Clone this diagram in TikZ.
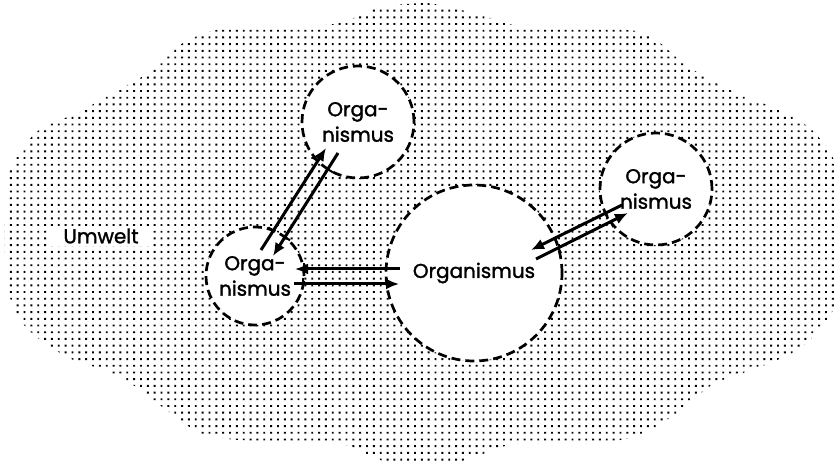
\documentclass[tikz,border=0pt]{standalone}
\usepackage{fontspec}
\setmainfont{Poppins}[FakeBold=1.5]
\usetikzlibrary{arrows.meta,calc}
\begin{document}
\begin{tikzpicture}[x=1pt,y=-1pt,
  org/.style={circle,draw=black,fill=white,line width=2.7pt,dash pattern=on 9pt off 5pt,inner sep=0pt,align=center,font=\fontsize{20}{25.5}\selectfont},
  arr/.style={line width=3pt,-{Latex[length=13pt,width=11pt]}},
  tickmark/.style={line width=2pt},
  lab/.style={fill=white,font=\fontsize{20}{24}\selectfont,inner xsep=13pt,inner ysep=3pt}]
\useasboundingbox (0,0) rectangle (836,465);
% Umwelt cloud (dot raster clipped to outline)
\begin{scope}
\clip plot[smooth cycle,tension=0.5] coordinates {
  (395,5) (425,3) (445,6) (465,11) (490,18) (508,24) (540,28) (600,29) (636,31)
  (655,39) (668,50) (680,60) (695,71) (710,80) (730,90) (750,99) (770,106)
  (795,118) (812,130) (824,144) (833,158) (837,180) (838,240) (837,295) (830,316)
  (818,330) (808,342) (790,354) (765,365) (740,374) (715,383) (700,394) (685,407)
  (668,419) (650,430) (620,440) (540,442) (505,446) (480,455) (450,464) (420,466)
  (395,464) (375,458) (350,446) (320,442) (240,440) (205,435) (185,424) (165,409)
  (148,396) (130,383) (105,370) (78,362) (55,350) (38,338) (24,325) (14,308)
  (6,280) (5,220) (7,180) (14,162) (24,148) (35,133) (55,122) (80,112) (100,100)
  (120,89) (140,78) (155,68) (165,57) (178,46) (200,35) (225,29) (300,27)
  (340,23) (360,15) (378,8)};
\foreach \j in {0,...,69} {
  \pgfmathsetmacro{\yy}{\j*6.7+3}
  \fill[black] \foreach \i in {0,...,121} { (\i*6.85+3,\yy) rectangle ++(1.9,1.9) };
}
\end{scope}
\node[lab] (U) at (101,236) {Umwelt};
% organisms
\node[org,minimum size=176pt] (M) at (474,273) {Organismus};
\node[org,minimum size=112pt] (T) at (358,122) {Orga-\\nismus};
\node[org,minimum size=98pt]  (L) at (255,276) {Orga-\\nismus};
\node[org,minimum size=112pt] (R) at (656,189) {Orga-\\nismus};
% arrow end points
\coordinate (h1s) at ($(M)+(-74,-4)$);
\coordinate (h1e) at ($(L)+(40,-7)$);
\coordinate (h2s) at ($(L)+(39,8)$);
\coordinate (h2e) at ($(M)+(-75,11)$);
\coordinate (d1s) at ($(L)+(6,-26)$);
\coordinate (d1e) at ($(T)+(-32,26)$);
\coordinate (d2s) at ($(T)+(-20,31)$);
\coordinate (d2e) at ($(L)+(18,-20)$);
\coordinate (rAs) at ($(R)+(-34,16)$);
\coordinate (rAe) at ($(M)+(57,-23)$);
\coordinate (rBs) at ($(M)+(62,-14)$);
\coordinate (rBe) at ($(R)+(-28,24)$);
% arrows
\draw[arr] (h1s) -- (h1e);
\draw[arr] (h2s) -- (h2e);
\draw[arr] (d1s) -- (d1e);
\draw[arr] (d2s) -- (d2e);
\draw[arr] (rAs) -- (rAe);
\draw[arr] (rBs) -- (rBe);
% crossing marks
\draw[tickmark] (303.5,269) -- ++(0,-6);
\draw[tickmark] (386.1,269) -- ++(0,-6);
\draw[tickmark] (303.3,284) -- ++(0,-6);
\draw[tickmark] (386.7,284) -- ++(0,-6);
\draw[tickmark] (317.8,160.9) -- ++(-5.1,-3.2);
\draw[tickmark] (273.4,230.6) -- ++(-5.1,-3.2);
\draw[tickmark] (327.8,169.2) -- ++(5.1,3.2);
\draw[tickmark] (284.9,237.1) -- ++(5.1,3.2);
\draw[tickmark] (605.5,213.2) -- ++(2.7,5.4);
\draw[tickmark] (554.8,238.2) -- ++(2.7,5.4);
\draw[tickmark] (558.3,247.8) -- ++(2.7,5.4);
\draw[tickmark] (610.6,221.7) -- ++(2.7,5.4);
\end{tikzpicture}
\end{document}
